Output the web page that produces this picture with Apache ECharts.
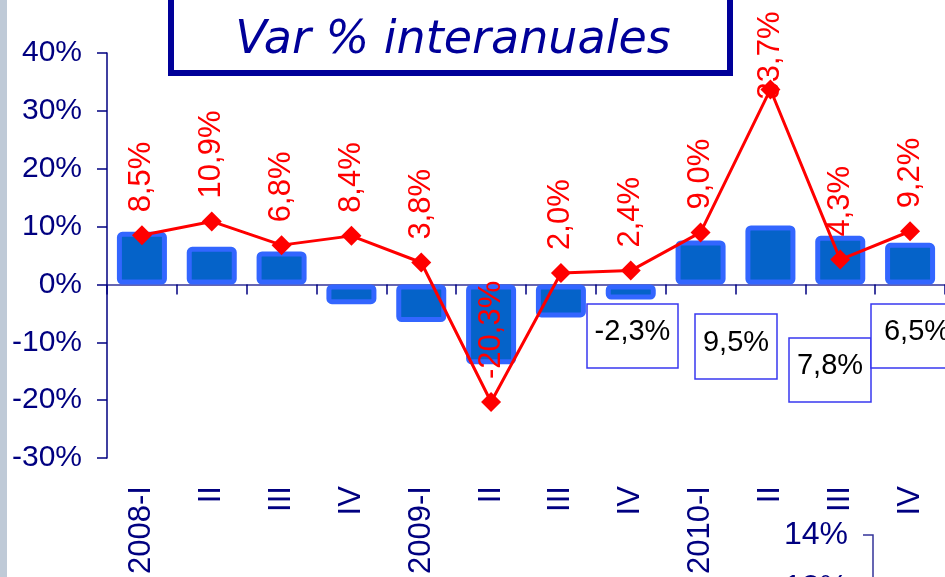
<!DOCTYPE html>
<html>
<head>
<meta charset="utf-8">
<script src="https://cdn.jsdelivr.net/npm/echarts@6/dist/echarts.min.js"></script>
<style>
  html, body { margin: 0; padding: 0; background: #fff; }
  #chart { width: 945px; height: 577px; }
</style>
</head>
<body>
<div id="chart"></div>
<script>
// datos
const categories = ['2008-I', 'II', 'III', 'IV', '2009-I', 'II', 'III', 'IV', '2010-I', 'II', 'III', 'IV']
const barValues = [9.1, 6.5, 5.7, -3.4, -6.5, -13.8, -5.7, -2.6, 7.6, 10.2, 8.4, 7.2]
const lineValues = [8.5, 10.9, 6.8, 8.4, 3.8, -20.3, 2.0, 2.4, 9.0, 33.7, 4.3, 9.2]
const yTicks = [-30, -20, -10, 0, 10, 20, 30, 40]
// cajas con valores (del grafico de abajo)
const boxValues = [-2.3, 9.5, 7.8, 6.5]
const lowerAxisLabels = ['14%', '12%']

const navy = '#000080'
const fmt = (v) => v.toFixed(1).replace('.', ',') + '%'
const font = "'Liberation Sans', Arial, sans-serif"

// posiciones de las cajas
const boxPos = [
  { x: 587, y: 304, w: 91, h: 64 },
  { x: 695, y: 314, w: 82, h: 65 },
  { x: 789, y: 338, w: 82, h: 64 },
  { x: 871, y: 304, w: 92, h: 64 },
]

const graphics = [
  // franja izquierda
  { type: 'rect', left: 0, top: 0, shape: { width: 7, height: 577 }, style: { fill: '#BFCAD7' }, z: 0 },
  // titulo
  {
    type: 'rect',
    shape: { x: 171, y: -10, width: 559, height: 83 },
    style: { fill: '#fff', stroke: '#000099', lineWidth: 6 },
    z: 10,
  },
  {
    type: 'text',
    x: 453,
    y: 41,
    style: {
      text: 'Var % interanuales',
      fill: '#000099',
      font: "italic 46px 'DejaVu Sans', Verdana, sans-serif",
      align: 'center',
      verticalAlign: 'middle',
    },
    z: 11,
  },
  // eje del otro grafico (abajo)
  {
    type: 'polyline',
    shape: { points: [[863, 535], [873, 535], [873, 590]] },
    style: { stroke: '#333399', lineWidth: 1.5, fill: null },
    z: 10,
  },
  {
    type: 'text', x: 848, y: 535,
    style: { text: lowerAxisLabels[0], fill: navy, font: '32px ' + font, align: 'right', verticalAlign: 'middle' },
    z: 10,
  },
  {
    type: 'text', x: 848, y: 572,
    style: { text: lowerAxisLabels[1], fill: navy, font: '32px ' + font, align: 'right', verticalAlign: 'top' },
    z: 10,
  },
]

boxValues.forEach((v, i) => {
  const p = boxPos[i]
  graphics.push({
    type: 'rect',
    shape: { x: p.x, y: p.y, width: p.w, height: p.h },
    style: { fill: '#fff', stroke: '#3838F0', lineWidth: 1.5 },
    z: 20,
  })
  graphics.push({
    type: 'text',
    x: p.x + p.w / 2,
    y: p.y + p.h / 2 - 4,
    style: { text: fmt(v), fill: '#000', font: '29px ' + font, align: 'center', verticalAlign: 'middle' },
    z: 21,
  })
})

const lineData = lineValues.map((v) => {
  // la etiqueta del pico queda encima del marcador
  if (v === 33.7) return { value: v, label: { distance: -20 } }
  return v
})

const option = {
  animation: false,
  grid: {
    left: 107,
    top: 53,
    bottom: 118,
    width: 846,
  },
  xAxis: [
    {
      type: 'category',
      data: categories,
      position: 'bottom',
      axisLine: { show: false, onZero: false },
      axisTick: { show: false },
      axisLabel: {
        rotate: 90,
        margin: 28,
        color: navy,
        fontSize: 31,
        fontFamily: font,
        interval: 0,
      },
    },
    {
      type: 'category',
      data: categories,
      position: 'bottom',
      axisLine: { show: true, onZero: true, lineStyle: { color: '#333399', width: 1.5 } },
      axisTick: { show: true, length: 10, lineStyle: { color: navy, width: 1.5 } },
      axisLabel: { show: false },
    },
  ],
  yAxis: {
    type: 'value',
    min: yTicks[0],
    max: yTicks[yTicks.length - 1],
    interval: 10,
    axisLine: { show: true, lineStyle: { color: navy, width: 1.5 } },
    axisTick: { show: true, length: 10, lineStyle: { color: navy, width: 1.5 } },
    splitLine: { show: false },
    axisLabel: {
      margin: 25,
      color: navy,
      fontSize: 30,
      fontFamily: font,
      formatter: '{value}%',
    },
  },
  series: [
    {
      type: 'bar',
      data: barValues,
      barWidth: 50,
      itemStyle: {
        color: '#0563C9',
        borderColor: '#3366FF',
        borderWidth: 5,
        borderRadius: 3,
      },
      z: 2,
    },
    {
      type: 'line',
      data: lineData,
      symbol: 'diamond',
      symbolSize: 20,
      lineStyle: { color: '#FF0000', width: 3 },
      itemStyle: { color: '#FF0000' },
      label: {
        show: true,
        position: 'top',
        distance: 13,
        rotate: 90,
        align: 'left',
        verticalAlign: 'middle',
        color: '#FF0000',
        fontSize: 31,
        fontFamily: font,
        formatter: (p) => fmt(p.value),
      },
      z: 3,
    },
  ],
  graphic: graphics,
}

const chart = echarts.init(document.getElementById('chart'))
chart.setOption(option)
window.onresize = function () {
  chart.resize()
}
</script>
</body>
</html>
